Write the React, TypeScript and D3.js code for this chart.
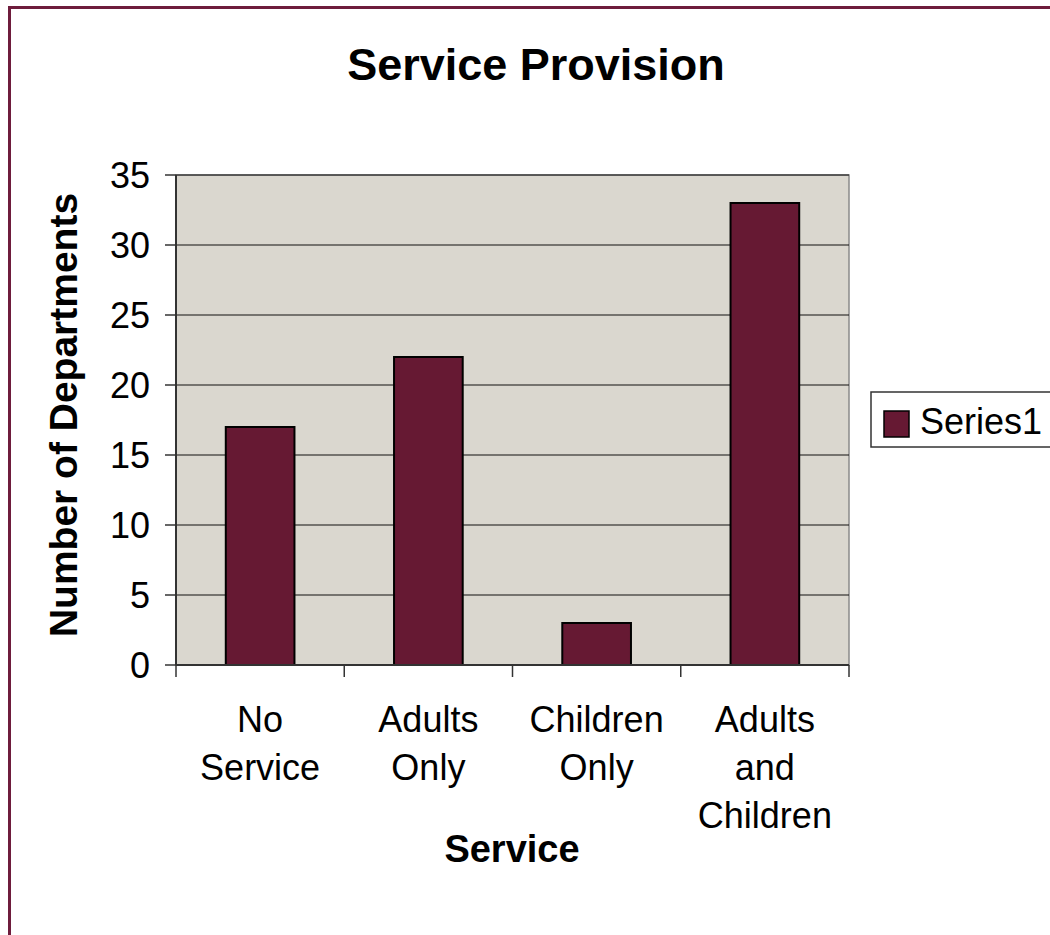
import React from "react";
import * as d3 from "d3";

const categories: string[][] = [["No", "Service"], ["Adults", "Only"], ["Children", "Only"], ["Adults", "and", "Children"]];
const values: number[] = [17, 22, 3, 33];
const yTicks: number[] = [0, 5, 10, 15, 20, 25, 30, 35];
const seriesName = "Series1";
const title = "Service Provision";
const xTitle = "Service";
const yTitle = "Number of Departments";

const W = 1050;
const H = 935;
const plot = { left: 176, right: 849, top: 175, bottom: 665 };
const FONT = "'Liberation Sans', Arial, sans-serif";
const BAR = "#661933";
const BG = "#dad7cf";

export default function App() {
  const x = d3.scaleBand<number>().domain(values.map((_, i) => i)).range([plot.left, plot.right]).paddingInner(0).paddingOuter(0);
  const y = d3.scaleLinear().domain([0, 35]).range([plot.bottom, plot.top]);
  const bw = x.bandwidth();
  const barW = bw / 2.45;
  const boundaries = d3.range(values.length + 1).map((i) => plot.left + i * bw);

  return (
    <svg width={W} height={H} style={{ position: "absolute", left: 0, top: 0, background: "#fff" }} fontFamily={FONT}>
      <rect x={9.5} y={7.5} width={1200} height={1200} fill="#fff" stroke="#6e1c3c" strokeWidth={3} />
      <text x={536} y={80} textAnchor="middle" fontSize={45} fontWeight="bold">{title}</text>
      <rect x={plot.left} y={plot.top} width={plot.right - plot.left} height={plot.bottom - plot.top} fill={BG} stroke="#8a8a8a" strokeWidth={1.5} />
      {yTicks.filter((t) => t > 0).map((t) => (
        <line key={"g" + t} x1={plot.left} x2={plot.right} y1={y(t)} y2={y(t)} stroke="#111" strokeWidth={1.2} />
      ))}
      {values.map((v, i) => {
        const cx = (x(i) as number) + bw / 2;
        return (
          <rect key={"b" + i} x={cx - barW / 2} y={y(v)} width={barW} height={y(0) - y(v)} fill={BAR} stroke="#000" strokeWidth={2} />
        );
      })}
      <line x1={plot.left} x2={plot.left} y1={plot.top} y2={plot.bottom} stroke="#333" strokeWidth={2} />
      <line x1={plot.left} x2={plot.right} y1={plot.bottom} y2={plot.bottom} stroke="#333" strokeWidth={2} />
      {yTicks.map((t) => (
        <g key={"t" + t}>
          <line x1={plot.left - 11} x2={plot.left} y1={y(t)} y2={y(t)} stroke="#333" strokeWidth={1.5} />
          <text x={150} y={y(t) + 13} textAnchor="end" fontSize={36}>{t}</text>
        </g>
      ))}
      {boundaries.map((bx, i) => (
        <line key={"xt" + i} x1={bx} x2={bx} y1={plot.bottom} y2={plot.bottom + 12} stroke="#333" strokeWidth={1.5} />
      ))}
      {categories.map((lines, i) => {
        const cx = (x(i) as number) + bw / 2;
        return (
          <text key={"c" + i} x={cx} textAnchor="middle" fontSize={36}>
            {lines.map((l, j) => (
              <tspan key={j} x={cx} y={732 + j * 48}>{l}</tspan>
            ))}
          </text>
        );
      })}
      <text x={512} y={862} textAnchor="middle" fontSize={38} fontWeight="bold">{xTitle}</text>
      <text transform={`translate(77,415) rotate(-90)`} textAnchor="middle" fontSize={39} fontWeight="bold">{yTitle}</text>
      <rect x={871} y={392} width={200} height={55} fill="#fff" stroke="#333" strokeWidth={1.5} />
      <rect x={884} y={411} width={25} height={26} fill={BAR} stroke="#000" strokeWidth={1.5} />
      <text x={920} y={434} fontSize={36}>{seriesName}</text>
    </svg>
  );
}
